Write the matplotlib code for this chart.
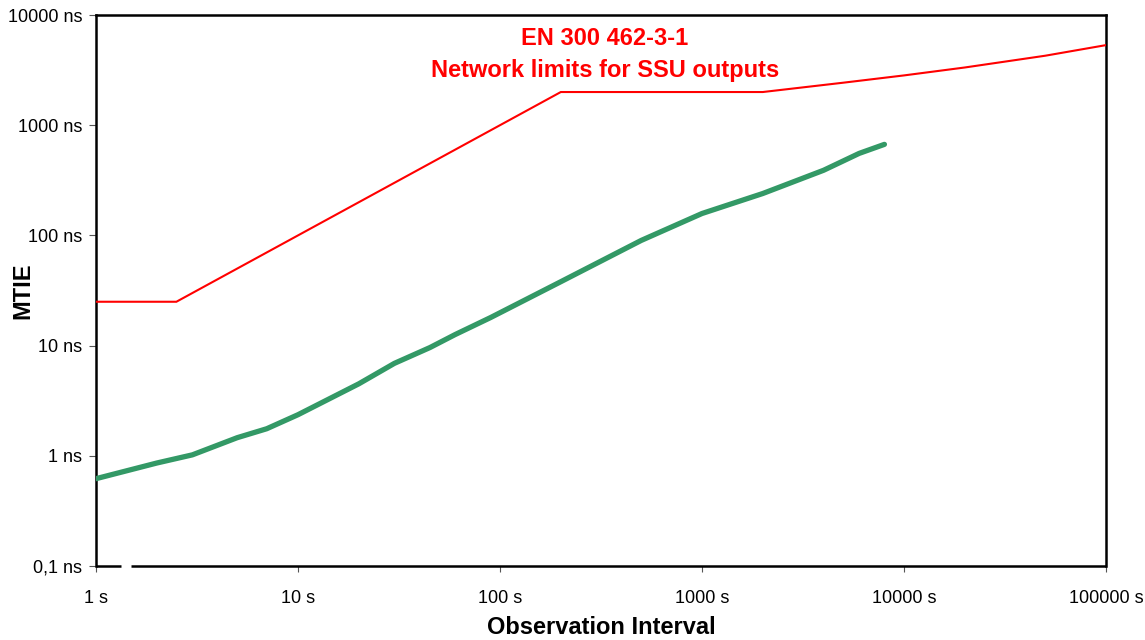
import matplotlib
matplotlib.use("Agg")
import matplotlib.pyplot as plt
from matplotlib.lines import Line2D
from matplotlib.ticker import FixedLocator, NullLocator

plt.rcParams['font.family'] = ['Liberation Sans', 'DejaVu Sans']

# Data
limit_tau = [1, 2.5, 200, 2000, 5000, 10000, 20000, 50000, 100000]
limit_ns = [25, 25, 2000, 2000, 2430, 2830, 3340, 4270, 5330]

meas_tau = [1, 2, 3, 5, 7, 10, 20, 30, 45, 60, 90, 200, 500, 1000, 2000, 4000, 6000, 8000]
meas_ns = [0.62, 0.86, 1.02, 1.46, 1.76, 2.36, 4.5, 6.9, 9.6, 12.6, 18.0, 38, 90, 158, 240, 390, 555, 670]

x_ticks = [1, 10, 100, 1000, 10000, 100000]
x_labels = ["1 s", "10 s", "100 s", "1000 s", "10000 s", "100000 s"]
y_ticks = [0.1, 1, 10, 100, 1000, 10000]
y_labels = ["0,1 ns", "1 ns", "10 ns", "100 ns", "1000 ns", "10000 ns"]

title_lines = ["EN 300 462-3-1", "Network limits for SSU outputs"]

fig = plt.figure(figsize=(11.45, 6.4), dpi=100)
ax = fig.add_axes([96/1145, 1-566/640, 1010/1145, 551/640])
ax.set_xscale('log')
ax.set_yscale('log')
ax.set_xlim(1, 100000)
ax.set_ylim(0.1, 10000)

ax.plot(limit_tau, limit_ns, color='#FF0000', lw=1.5, solid_joinstyle='miter', zorder=3)
ax.plot(meas_tau, meas_ns, color='#339966', lw=3.8, solid_capstyle='round', zorder=3)

ax.xaxis.set_major_locator(FixedLocator(x_ticks))
ax.yaxis.set_major_locator(FixedLocator(y_ticks))
ax.xaxis.set_minor_locator(NullLocator())
ax.yaxis.set_minor_locator(NullLocator())
ax.set_xticklabels(x_labels)
ax.set_yticklabels(y_labels)
ax.tick_params(axis='x', direction='out', length=4.5, width=0.8, pad=13, labelsize=13, color='#555555')
ax.tick_params(axis='y', direction='out', length=5, width=0.8, pad=5, labelsize=13, color='#555555')

for s in ['left', 'right', 'top']:
    ax.spines[s].set_linewidth(1.8)
    ax.spines[s].set_color('black')
ax.spines['bottom'].set_visible(False)
# bottom spine with a break near the origin
ax.add_line(Line2D([0, 0.0245], [0, 0], transform=ax.transAxes, color='black', lw=1.8, clip_on=False, solid_capstyle='butt'))
ax.add_line(Line2D([0.0345, 1.0], [0, 0], transform=ax.transAxes, color='black', lw=1.8, clip_on=False, solid_capstyle='butt'))

ax.set_xlabel("Observation Interval", fontsize=17, fontweight='bold', labelpad=6)
ax.set_ylabel("MTIE", fontsize=17, fontweight='bold')
ax.yaxis.set_label_coords(-62/1010, 0.5)

ax.text(0.504, 0.958, title_lines[0], transform=ax.transAxes, ha='center', va='center',
        color='#FF0000', fontsize=17, fontweight='bold')
ax.text(0.504, 0.900, title_lines[1], transform=ax.transAxes, ha='center', va='center',
        color='#FF0000', fontsize=17, fontweight='bold')

fig.savefig("out.png", dpi=100)
